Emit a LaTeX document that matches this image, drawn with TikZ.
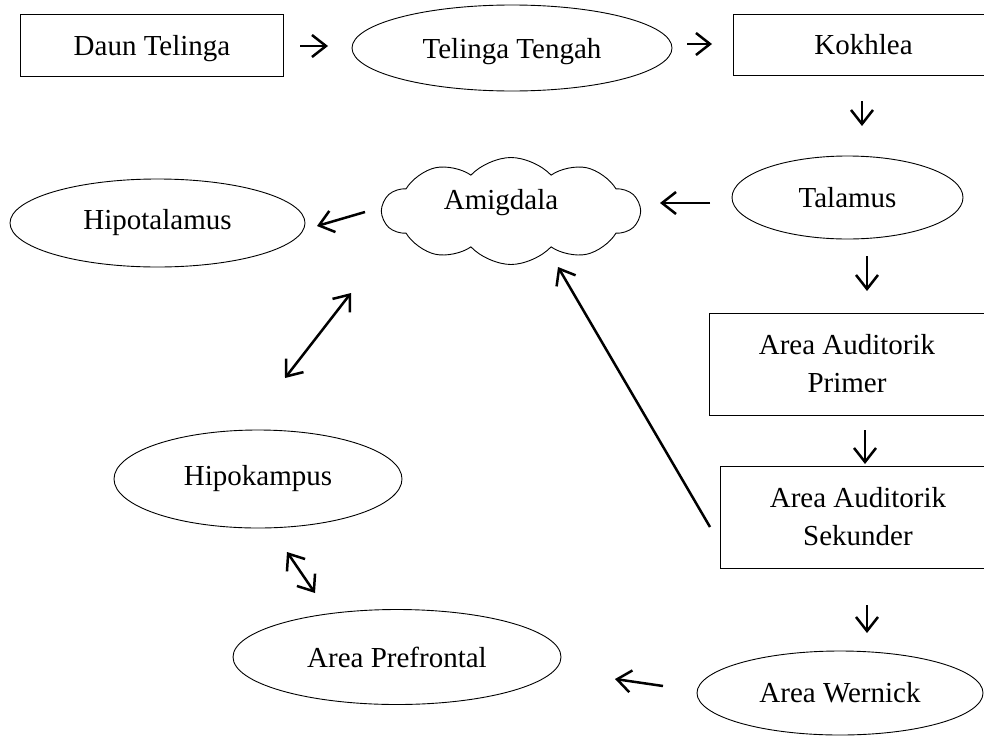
\documentclass[tikz,border=0pt]{standalone}
\usepackage{fontspec}
\setmainfont{Liberation Serif}
\usetikzlibrary{shapes.geometric,shapes.symbols,arrows.meta}
\tikzset{
  txt/.style={font=\fontsize{29}{38}\selectfont, inner sep=0pt, align=center},
  boxnode/.style={txt, draw, line width=0.9pt, rectangle},
  ellnode/.style={txt, draw, line width=0.9pt, ellipse},
  cloudnode/.style={draw, line width=0.9pt, cloud, cloud puffs=10, cloud puff arc=95, cloud ignores aspect, inner sep=0pt},
  tip/.tip={Straight Barb[length=14pt,width=22pt,line width=2.5pt]},
  arr/.style={line width=2.5pt, -tip},
  darr/.style={line width=2.5pt, tip-tip}
}
\begin{document}
\begin{tikzpicture}[x=1pt,y=-1pt]
\useasboundingbox (0,0) rectangle (984,736);
\clip (0,0) rectangle (984,736);
\fill[white] (0,0) rectangle (984,736);
% nodes
\node[boxnode, minimum width=263pt, minimum height=62pt, text depth=0pt] (daun) at (152,45) {Daun Telinga};
\node[ellnode, minimum width=320pt, minimum height=86pt, text depth=0pt] (tt) at (512,48) {Telinga Tengah};
\node[boxnode, minimum width=261pt, minimum height=61pt] (kok) at (863.5,44.5) {Kokhlea};
\node[ellnode, minimum width=231pt, minimum height=83pt] (tal) at (847.5,197.5) {Talamus};
\node[cloudnode, minimum width=257pt, minimum height=107pt] (amig) at (511,211) {};
\node[txt] (amigtext) at (501,203) {Amigdala};
\node[ellnode, minimum width=295pt, minimum height=88pt] (hipot) at (157.5,223) {Hipotalamus};
\node[boxnode, minimum width=276pt, minimum height=102pt] (prim) at (847,364) {Area Auditorik\\Primer};
\node[boxnode, minimum width=276pt, minimum height=102pt] (sek) at (858,517) {Area Auditorik\\Sekunder};
\node[ellnode, minimum width=286pt, minimum height=84pt] (wern) at (840,693) {Area Wernick};
\node[ellnode, minimum width=328pt, minimum height=95pt] (pref) at (397,657) {Area Prefrontal};
\node[ellnode, minimum width=288pt, minimum height=98pt] (hipok) at (258,479) {Hipokampus};
% connector end points
\coordinate (a1s) at (300,46);  \coordinate (a1e) at (328,46);
\coordinate (a2s) at (687,44);  \coordinate (a2e) at (712,44);
\coordinate (a3s) at (862,101); \coordinate (a3e) at (862,126);
\coordinate (a4s) at (710,203); \coordinate (a4e) at (660,203);
\coordinate (a5s) at (867,256); \coordinate (a5e) at (867,291);
\coordinate (a6s) at (865,430); \coordinate (a6e) at (865,464);
\coordinate (a7s) at (710,527); \coordinate (a7e) at (558,267);
\coordinate (a8s) at (867,605); \coordinate (a8e) at (867,633);
\coordinate (a9s) at (663,686); \coordinate (a9e) at (615,679);
\coordinate (a10s) at (365,212); \coordinate (a10e) at (317,226);
\coordinate (a11s) at (285,378); \coordinate (a11e) at (351,293);
\coordinate (a12s) at (287,552); \coordinate (a12e) at (315,593);
% connectors
\draw[arr] (a1s) -- (a1e);
\draw[arr] (a2s) -- (a2e);
\draw[arr] (a3s) -- (a3e);
\draw[arr] (a4s) -- (a4e);
\draw[arr] (a5s) -- (a5e);
\draw[arr] (a6s) -- (a6e);
\draw[arr] (a7s) -- (a7e);
\draw[arr] (a8s) -- (a8e);
\draw[arr] (a9s) -- (a9e);
\draw[arr] (a10s) -- (a10e);
\draw[darr] (a11s) -- (a11e);
\draw[darr] (a12s) -- (a12e);
\end{tikzpicture}
\end{document}
